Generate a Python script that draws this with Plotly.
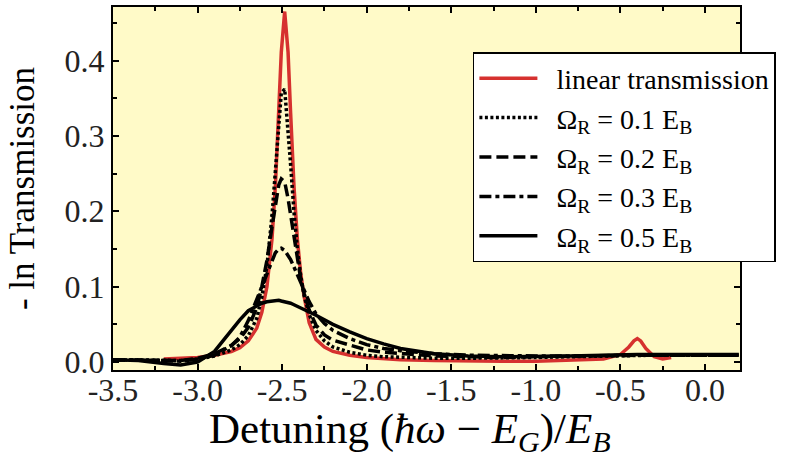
import plotly.graph_objects as go

# ---- data ----
detuning = [-3.5, -3.35, -3.2, -3.1, -3.0, -2.9, -2.8, -2.75, -2.7, -2.65, -2.62, -2.59,
            -2.56, -2.54, -2.52, -2.505, -2.485, -2.465, -2.45, -2.43, -2.41, -2.39, -2.37,
            -2.34, -2.3, -2.25, -2.2, -2.1, -2.0, -1.9, -1.8, -1.6, -1.4, -1.2, -1.0, -0.8,
            -0.6, -0.5, -0.45, -0.42, -0.4, -0.38, -0.35, -0.3, -0.25, -0.2, -0.1, 0.0, 0.2]

linear_trans = [None, None, 0.004, 0.005, 0.006, 0.009, 0.014, 0.019, 0.028, 0.045, 0.066, 0.100,
                0.163, 0.233, 0.331, 0.411, 0.465, 0.411, 0.331, 0.233, 0.163, 0.117, 0.087,
                0.052, 0.030, 0.020, 0.014, 0.009, 0.006, 0.004, 0.003, 0.002, 0.001, 0.001, 0.001, 0.002,
                0.004, 0.010, 0.020, 0.028, 0.031, 0.028, 0.018, 0.007, 0.004, 0.006, None, None, None]

omega_01 = [0.003, 0.003, 0.003, 0.002, 0.004, 0.008, 0.016, 0.023, 0.035, 0.058, 0.086, 0.127,
            0.194, 0.256, 0.322, 0.357, 0.362, 0.312, 0.262, 0.199, 0.150, 0.114, 0.088,
            0.063, 0.042, 0.028, 0.020, 0.013, 0.009, 0.007, 0.006, 0.005, 0.005, 0.005, 0.006, 0.007,
            0.008, 0.009, 0.009, 0.009, 0.009, 0.009, 0.009, 0.009, 0.009, 0.009, 0.009, 0.009, 0.009]

omega_02 = [0.003, 0.003, 0.002, 0.002, 0.005, 0.011, 0.022, 0.031, 0.046, 0.072, 0.100, 0.135,
            0.179, 0.210, 0.235, 0.243, 0.239, 0.217, 0.195, 0.164, 0.135, 0.110, 0.091,
            0.069, 0.049, 0.036, 0.029, 0.022, 0.016, 0.013, 0.011, 0.008, 0.007, 0.006, 0.007, 0.008,
            0.008, 0.009, 0.009, 0.009, 0.009, 0.009, 0.009, 0.009, 0.009, 0.009, 0.009, 0.009, 0.009]

omega_03 = [0.003, 0.003, 0.002, 0.001, 0.004, 0.009, 0.022, 0.033, 0.055, 0.083, 0.100, 0.118,
            0.135, 0.145, 0.150, 0.151, 0.148, 0.142, 0.136, 0.126, 0.116, 0.105, 0.095,
            0.080, 0.064, 0.051, 0.042, 0.031, 0.023, 0.018, 0.015, 0.011, 0.009, 0.008, 0.008, 0.008,
            0.009, 0.009, 0.009, 0.009, 0.009, 0.009, 0.009, 0.009, 0.009, 0.009, 0.009, 0.009, 0.009]

omega_05 = [0.003, 0.002, -0.002, -0.004, 0.000, 0.014, 0.042, 0.056, 0.068, 0.075, 0.078, 0.080,
            0.081, 0.082, 0.082, 0.081, 0.080, 0.079, 0.078, 0.076, 0.074, 0.072, 0.070,
            0.066, 0.062, 0.056, 0.050, 0.040, 0.031, 0.024, 0.018, 0.011, 0.008, 0.007, 0.007, 0.008,
            0.009, 0.010, 0.010, 0.010, 0.010, 0.010, 0.010, 0.010, 0.010, 0.010, 0.010, 0.010, 0.010]

series_names = ["linear transmission",
                "Ω<sub>R</sub> = 0.1 E<sub>B</sub>",
                "Ω<sub>R</sub> = 0.2 E<sub>B</sub>",
                "Ω<sub>R</sub> = 0.3 E<sub>B</sub>",
                "Ω<sub>R</sub> = 0.5 E<sub>B</sub>"]

x_tickvals = [-3.5, -3.0, -2.5, -2.0, -1.5, -1.0, -0.5, 0.0]
x_ticktext = ["-3.5", "-3.0", "-2.5", "-2.0", "-1.5", "-1.0", "-0.5", "0.0"]
y_tickvals = [0.0, 0.1, 0.2, 0.3, 0.4]
y_ticktext = ["0.0", "0.1", "0.2", "0.3", "0.4"]

# ---- figure ----
FONT = "Liberation Serif, Times New Roman, serif"
styles = [
    dict(color="#d6312f", width=3.5, dash="solid"),
    dict(color="black", width=3.5, dash="3px,2.5px"),
    dict(color="black", width=3.5, dash="12px,5px"),
    dict(color="black", width=3.5, dash="12px,4px,4px,4px"),
    dict(color="black", width=3.5, dash="solid"),
]
ys = [linear_trans, omega_01, omega_02, omega_03, omega_05]

fig = go.Figure()
for name, y, st in zip(series_names, ys, styles):
    fig.add_trace(go.Scatter(x=detuning, y=y, mode="lines", name="\u00a0\u00a0" + name,
                             line=st, connectgaps=False))

axis_common = dict(showline=True, linecolor="black", linewidth=2, mirror="ticks",
                   ticks="inside", ticklen=6, tickwidth=1.5, tickcolor="black",
                   showgrid=False, zeroline=False,
                   tickfont=dict(family=FONT, size=32, color="#222"))

x_title = "Detuning (<i>ħω</i> − <i>E</i><sub><i>G</i></sub>)/<i>E</i><sub><i>B</i></sub>"

fig.update_layout(
    width=785, height=464,
    margin=dict(l=113, r=45, t=7, b=94, autoexpand=False),
    paper_bgcolor="white",
    plot_bgcolor="#fffac8",
    font=dict(family=FONT, color="black"),
    xaxis=dict(range=[-3.5, 0.207], tickmode="array", tickvals=x_tickvals, ticktext=x_ticktext,
               ticklabelstandoff=-9,
               minor=dict(tickmode="linear", tick0=-3.5, dtick=0.25, ticks="inside",
                          ticklen=4, tickcolor="black"),
               **axis_common),
    yaxis=dict(range=[-0.0106, 0.471], tickmode="array", tickvals=y_tickvals, ticktext=y_ticktext,
               minor=dict(tickmode="linear", tick0=0, dtick=0.05, ticks="inside",
                          ticklen=4, tickcolor="black"),
               title=dict(text="- ln Transmission",
                          font=dict(family=FONT, size=35, color="black"), standoff=19),
               **axis_common),
    legend=dict(x=0.574, y=0.876, xanchor="left", yanchor="top",
                bgcolor="white", bordercolor="black", borderwidth=1.5,
                font=dict(family=FONT, size=28, color="black"),
                itemwidth=58, tracegroupgap=0),
    showlegend=True,
    annotations=[dict(text=x_title, xref="paper", yref="paper",
                      x=0.4737, y=-0.172, xanchor="center", yanchor="middle",
                      showarrow=False, font=dict(family=FONT, size=43, color="black"))],
)

fig.write_html("out.html", config={"displayModeBar": False},
               post_script="document.body.style.margin='0';")
